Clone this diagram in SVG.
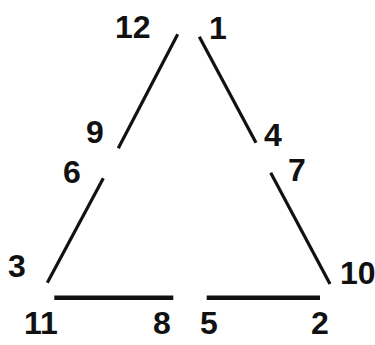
<svg xmlns="http://www.w3.org/2000/svg" width="375" height="345" viewBox="0 0 375 345">
<style>
.e{stroke:#111;stroke-width:3.2;fill:none}
.b{stroke:#111;stroke-width:4.5;fill:none}
text{font-family:"Liberation Sans",Arial,sans-serif;font-weight:bold;font-size:32px;fill:#111}
</style>
<rect width="375" height="345" fill="#fff"/>
<g id="connectors">
<line class="e" x1="177.7" y1="34.3" x2="118.3" y2="148.3"/>
<line class="e" x1="199.3" y1="36.7" x2="256" y2="142.7"/>
<line class="e" x1="103.3" y1="178.3" x2="47.3" y2="282.7"/>
<line class="e" x1="270.7" y1="172.7" x2="330" y2="284"/>
<line class="b" x1="54.3" y1="297.7" x2="173.3" y2="297.7"/>
<line class="b" x1="206.7" y1="297.7" x2="320" y2="297.7"/>
</g>
<g id="n12"><text x="115" y="38">12</text></g>
<g id="n1"><text x="209" y="39">1</text></g>
<g id="n9"><text x="86" y="143">9</text></g>
<g id="n4"><text x="264" y="146">4</text></g>
<g id="n6"><text x="63" y="183">6</text></g>
<g id="n7"><text x="288" y="181">7</text></g>
<g id="n3"><text x="8" y="277">3</text></g>
<g id="n10"><text x="340" y="284">10</text></g>
<g id="n11"><text x="24" y="334">11</text></g>
<g id="n8"><text x="153" y="334">8</text></g>
<g id="n5"><text x="200" y="334">5</text></g>
<g id="n2"><text x="311" y="334">2</text></g>
</svg>
